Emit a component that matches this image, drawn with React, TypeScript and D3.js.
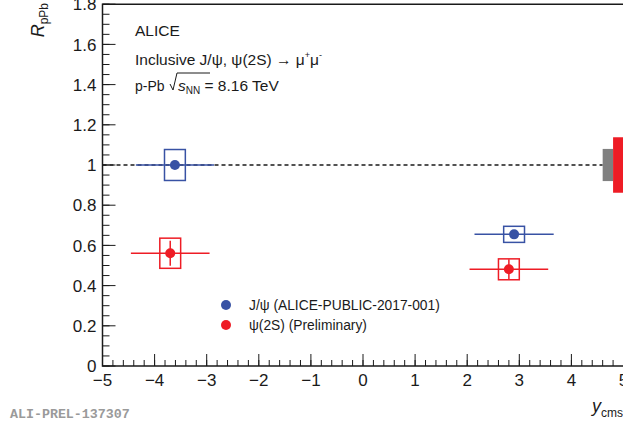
import * as d3 from "d3";

// rapidity bins and R_pPb values
const jpsiY = [-3.61, 2.9];
const jpsiR = [1.0, 0.655];
const jpsiStat = [0.012, 0.015];
const jpsiSyst = [0.077, 0.04];
const jpsiBin = [0.75, 0.76];

const psiY = [-3.7, 2.8];
const psiR = [0.561, 0.481];
const psiStat = [0.062, 0.05];
const psiSyst = [0.075, 0.052];
const psiBin = [0.755, 0.755];

// global normalisation uncertainties (grey: J/psi, red: psi(2S))
const globalLo = [4.6, 4.8];
const globalHi = [4.8, 5.0];
const globalErr = [0.08, 0.138];

const xTicks = [-5, -4, -3, -2, -1, 0, 1, 2, 3, 4, 5];
const yTicks = [0, 0.2, 0.4, 0.6, 0.8, 1, 1.2, 1.4, 1.6, 1.8];

const legendLabels = ["J/ψ (ALICE-PUBLIC-2017-001)", "ψ(2S) (Preliminary)"];

const BLUE = "#3852a4";
const RED = "#ee1c25";
const GREY = "#808080";
const INK = "#1a1a1a";
const FONT = "'Liberation Sans', Arial, Helvetica, sans-serif";

function fmt(v: number) {
  if (v === 0) return "0";
  if (Number.isInteger(v)) return v < 0 ? `−${Math.abs(v)}` : `${v}`;
  return v.toFixed(1);
}

export default function App() {
  const width = 623;
  const height = 429;

  const x = d3.scaleLinear().domain([-5, 5]).range([102.5, 623.5]);
  const y = d3.scaleLinear().domain([0, 1.8]).range([366, 4.2]);

  const xMinor = d3.range(-5, 5.001, 0.2);
  const yMinor = d3.range(0, 1.801, 0.05);

  const series = [
    { color: BLUE, ys: jpsiY, rs: jpsiR, stat: jpsiStat, syst: jpsiSyst, bin: jpsiBin },
    { color: RED, ys: psiY, rs: psiR, stat: psiStat, syst: psiSyst, bin: psiBin },
  ];

  const boxHalf = 0.2;

  return (
    <svg
      width={width}
      height={height}
      style={{ position: "absolute", left: 0, top: 0, background: "#fff" }}
      fontFamily={FONT}
    >
      {/* reference line at 1 */}
      <line
        x1={x(-5)}
        x2={x(globalLo[0])}
        y1={y(1)}
        y2={y(1)}
        stroke={INK}
        strokeWidth={1.5}
        strokeDasharray="4,3"
      />

      {/* global uncertainty boxes */}
      {globalLo.map((lo, i) => (
        <rect
          key={i}
          x={x(lo)}
          width={x(globalHi[i]) - x(lo)}
          y={y(1 + globalErr[i])}
          height={y(1 - globalErr[i]) - y(1 + globalErr[i])}
          fill={i === 0 ? GREY : RED}
        />
      ))}

      {/* data points */}
      {series.map((s, si) =>
        s.ys.map((yc, i) => {
          const cx = x(yc);
          const cy = y(s.rs[i]);
          return (
            <g key={`${si}-${i}`}>
              <line
                x1={x(yc - s.bin[i])}
                x2={x(yc + s.bin[i])}
                y1={cy}
                y2={cy}
                stroke={s.color}
                strokeWidth={1.5}
              />
              <line
                x1={cx}
                x2={cx}
                y1={y(s.rs[i] + s.stat[i])}
                y2={y(s.rs[i] - s.stat[i])}
                stroke={s.color}
                strokeWidth={1.5}
              />
              <rect
                x={x(yc - boxHalf)}
                width={x(yc + boxHalf) - x(yc - boxHalf)}
                y={y(s.rs[i] + s.syst[i])}
                height={y(s.rs[i] - s.syst[i]) - y(s.rs[i] + s.syst[i])}
                fill="none"
                stroke={s.color}
                strokeWidth={1.5}
              />
              <circle cx={cx} cy={cy} r={5} fill={s.color} />
            </g>
          );
        })
      )}

      {/* frame */}
      <path
        d={`M${x(5) + 2},${y(1.8)} H${x(-5)} V${y(0)} H${x(5) + 2}`}
        fill="none"
        stroke={INK}
        strokeWidth={1.5}
      />

      {/* x ticks */}
      {xMinor.map((v, i) => (
        <line key={`xm${i}`} x1={x(v)} x2={x(v)} y1={y(0)} y2={y(0) - 6} stroke={INK} strokeWidth={1} />
      ))}
      {xTicks.map((v) => (
        <g key={`xt${v}`}>
          <line x1={x(v)} x2={x(v)} y1={y(0)} y2={y(0) - 12} stroke={INK} strokeWidth={1} />
          <text x={x(v)} y={y(0) + 20} textAnchor="middle" fontSize={17} fill={INK}>
            {fmt(v)}
          </text>
        </g>
      ))}

      {/* y ticks */}
      {yMinor.map((v, i) => (
        <line key={`ym${i}`} x1={x(-5)} x2={x(-5) + 7} y1={y(v)} y2={y(v)} stroke={INK} strokeWidth={1} />
      ))}
      {yTicks.map((v) => (
        <g key={`yt${v}`}>
          <line x1={x(-5)} x2={x(-5) + 13} y1={y(v)} y2={y(v)} stroke={INK} strokeWidth={1} />
          <text x={x(-5) - 6} y={y(v)} dy="0.36em" textAnchor="end" fontSize={17} fill={INK}>
            {fmt(v)}
          </text>
        </g>
      ))}

      {/* axis titles */}
      <text transform="translate(44,3) rotate(-90)" textAnchor="end" fontSize={18} fill={INK}>
        <tspan fontStyle="italic">R</tspan>
        <tspan fontSize={12} dy={4}>pPb</tspan>
      </text>
      <text x={623} y={412} textAnchor="end" fontSize={18} fill={INK}>
        <tspan fontStyle="italic">y</tspan>
        <tspan fontSize={12} dy={5}>cms</tspan>
      </text>

      {/* header */}
      <text x={135} y={36} fontSize={15.5} fill={INK}>ALICE</text>
      <text x={135} y={65} fontSize={15.5} fill={INK}>
        Inclusive J/ψ, ψ(2S) → μ
        <tspan fontSize={9} dy={-7}>+</tspan>
        <tspan dy={7}>μ</tspan>
        <tspan fontSize={9} dy={-7}>-</tspan>
      </text>
      <text x={135} y={91} fontSize={14} fill={INK}>
        p-Pb
      </text>
      <path d="M170,84 l3,6 l4,-17 H210" fill="none" stroke={INK} strokeWidth={1} />
      <text x={178} y={91} fontSize={15.5} fill={INK}>
        <tspan fontStyle="italic">s</tspan>
        <tspan fontSize={10} dy={3}>NN</tspan>
        <tspan dy={-3}> = 8.16 TeV</tspan>
      </text>

      {/* legend */}
      {legendLabels.map((lab, i) => (
        <g key={lab} transform={`translate(226,${305 + i * 20})`}>
          <circle r={5} fill={i === 0 ? BLUE : RED} />
          <text x={23} dy="0.36em" fontSize={13.8} fill={INK}>
            {lab}
          </text>
        </g>
      ))}

      {/* watermark */}
      <text
        x={10}
        y={418}
        fontSize={13.3}
        fontWeight="bold"
        fontFamily="'Liberation Mono', 'DejaVu Sans Mono', monospace"
        fill="#9a9a9a"
      >
        ALI-PREL-137307
      </text>
    </svg>
  );
}
